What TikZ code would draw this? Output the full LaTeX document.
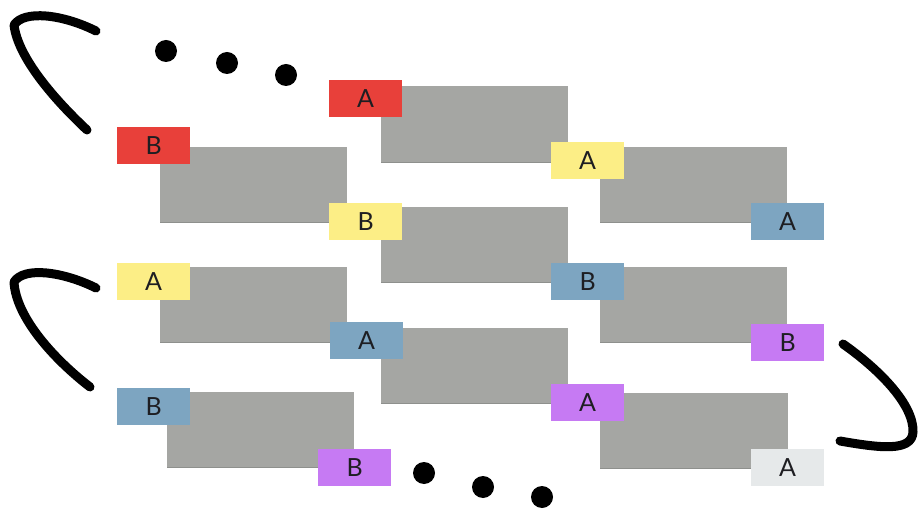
\documentclass[tikz,border=0pt]{standalone}
\usepackage{fontspec}
\setmainfont{Lato}
\usetikzlibrary{decorations.pathmorphing}
\definecolor{boxgray}{HTML}{A5A6A3}
\definecolor{boxedge}{HTML}{8E908D}
\definecolor{tred}{HTML}{E8403A}
\definecolor{tyellow}{HTML}{FCEE86}
\definecolor{tblue}{HTML}{7DA5C1}
\definecolor{tpurple}{HTML}{C67AF3}
\definecolor{tlight}{HTML}{E6E9EA}
\definecolor{ink}{HTML}{1E1E22}
\tikzset{
  gbox/.style={fill=boxgray, draw=none, minimum width=187, minimum height=76, anchor=north west, inner sep=0},
  tagbox/.style={draw=none, minimum width=73, minimum height=37, anchor=north west, inner sep=0, text=ink, font=\fontsize{25}{25}\selectfont},
  dot/.style={circle, fill=black, minimum size=22, inner sep=0},
  brush/.style={draw=black, line width=9, line cap=round, line join=round},
  brushfuzz/.style={draw=black, line width=1.4, line cap=round, line join=round,
    decorate, decoration={random steps, segment length=1.5, amplitude=3.2}}
}
\begin{document}
\begin{tikzpicture}[x=1pt,y=-1pt]
\pgfmathsetseed{7}
\useasboundingbox (0,0) rectangle (920,510);
% gray boxes
\node[gbox] (b11) at (160,147) {};
\node[gbox] (b12) at (160,267) {};
\node[gbox] (b13) at (167,392) {};
\node[gbox, minimum height=77] (b21) at (381,86) {};
\node[gbox] (b22) at (381,207) {};
\node[gbox] (b23) at (381,328) {};
\node[gbox] (b31) at (600,147) {};
\node[gbox] (b32) at (600,267) {};
\node[gbox, minimum width=188] (b33) at (600,393) {};
\foreach \b in {b11,b12,b13,b21,b22,b23,b31,b32,b33}{
  \draw[boxedge, line width=1.6] ([yshift=0.8]\b.south west) -- ([yshift=0.8]\b.south east);
}
% tags
\node[tagbox, fill=tred]    (t1)  at (117,127) {B};
\node[tagbox, fill=tred]    (t2)  at (329,80)  {A};
\node[tagbox, fill=tyellow] (t3)  at (551,142) {A};
\node[tagbox, fill=tyellow] (t4)  at (329,203) {B};
\node[tagbox, fill=tblue]   (t5)  at (751,203) {A};
\node[tagbox, fill=tyellow] (t6)  at (117,263) {A};
\node[tagbox, fill=tblue]   (t7)  at (551,263) {B};
\node[tagbox, fill=tblue]   (t8)  at (330,322) {A};
\node[tagbox, fill=tpurple] (t9)  at (751,324) {B};
\node[tagbox, fill=tpurple] (t10) at (551,384) {A};
\node[tagbox, fill=tblue]   (t11) at (117,388) {B};
\node[tagbox, fill=tpurple] (t12) at (318,449) {B};
\node[tagbox, fill=tlight]  (t13) at (751,449) {A};
% dots
\node[dot] (d1) at (166,51) {};
\node[dot] (d2) at (227,63) {};
\node[dot] (d3) at (286,75) {};
\node[dot] (d4) at (424,473) {};
\node[dot] (d5) at (483,487) {};
\node[dot] (d6) at (542,497) {};
% brush strokes
\foreach \s in {brush,brushfuzz,brushfuzz,brushfuzz,brushfuzz,brushfuzz}{
  \draw[\s] (96,31) .. controls (62,14) and (24,10) .. (14,25) .. controls (18,58) and (55,100) .. (87,130);
  \draw[\s] (96,288) .. controls (64,272) and (24,266) .. (14,282) .. controls (16,318) and (55,360) .. (90,387);
  \draw[\s] (843,344) .. controls (880,370) and (914,405) .. (913,432) .. controls (912,452) and (880,448) .. (840,441);
}
\end{tikzpicture}
\end{document}
